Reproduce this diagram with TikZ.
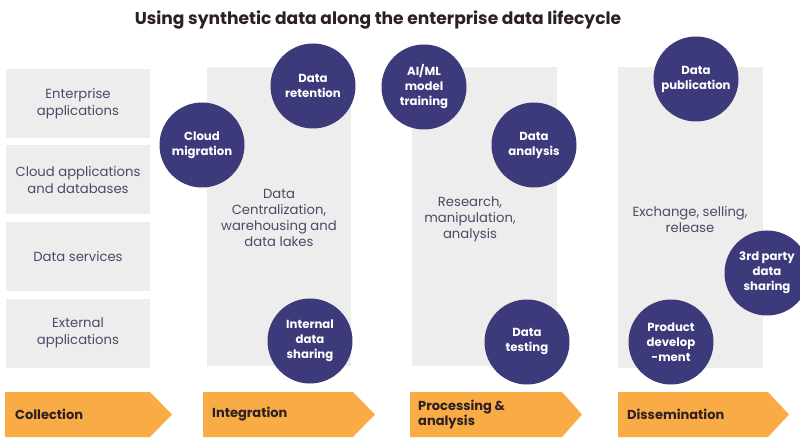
\documentclass[tikz,border=0pt]{standalone}
\usepackage{fontspec}
\setmainfont{Poppins}
\definecolor{panelgray}{HTML}{EDEDEE}
\definecolor{bubblecol}{HTML}{3C3A7B}
\definecolor{stagecol}{HTML}{F9AC45}
\definecolor{bodytext}{HTML}{4A4A66}
\definecolor{darktext}{HTML}{2B2024}
\begin{document}
\begin{tikzpicture}[x=1pt,y=-1pt,
  srcbox/.style={fill=panelgray, minimum width=144pt, minimum height=69pt, inner sep=0pt,
     align=center, text=bodytext, font=\fontsize{13.2}{16.5}\selectfont},
  panel/.style={fill=panelgray},
  paneltext/.style={align=center, text=bodytext, font=\fontsize{13.2}{16}\selectfont},
  bubble/.style={circle, fill=bubblecol, minimum size=85pt, inner sep=0pt, align=center,
     text=white, font=\bfseries\fontsize{11.7}{15}\selectfont},
  stage/.style={fill=stagecol},
  stagetext/.style={anchor=west, align=left, inner sep=0pt, text=darktext, font=\bfseries\fontsize{13}{15.5}\selectfont},
  title/.style={text=darktext, font=\bfseries\fontsize{17.1}{21}\selectfont}
]
\useasboundingbox (0,0) rectangle (800,446);

% title
\node[title] (ttl) at (378,20) {Using synthetic data along the enterprise data lifecycle};

% source boxes
\node[srcbox] (ent) at (78,103.5) {Enterprise\\applications};
\node[srcbox] (cloudapp) at (78,180) {Cloud applications\\and databases};
\node[srcbox] (dserv) at (78,256.5) {Data services};
\node[srcbox] (ext) at (78,333) {External\\applications};

% panels
\fill[panel] (207,67) rectangle (351,366);
\fill[panel] (412,67) rectangle (557,366);
\fill[panel] (618,67) rectangle (763,368);

\node[paneltext] (integ) at (279,218) {Data\\Centralization,\\warehousing and\\data lakes};
\node[paneltext] (proc) at (470,219) {Research,\\manipulation,\\analysis};
\node[paneltext] (diss) at (690,220) {Exchange, selling,\\release};

% bubbles
\node[bubble] (cloudmig) at (202,145) {Cloud\\migration};
\node[bubble] (retention) at (313,86) {Data\\retention};
\node[bubble] (internal) at (310,341) {Internal\\data\\sharing};
\node[bubble] (aiml) at (424,87) {AI/ML\\model\\training};
\node[bubble] (analysis) at (534,145) {Data\\analysis};
\node[bubble] (testing) at (527,342) {Data\\testing};
\node[bubble] (publication) at (696,79) {Data\\publication};
\node[bubble] (thirdparty) at (767,273) {3rd party\\data\\sharing};
\node[bubble] (product) at (671,342) {Product\\develop\\-ment};

% stage arrows
\fill[stage] (5,392) -- (150,392) -- (172,414.5) -- (150,437) -- (5,437) -- cycle;
\fill[stage] (203,392) -- (353,392) -- (375,414.5) -- (353,437) -- (203,437) -- cycle;
\fill[stage] (410,392) -- (562,392) -- (582,414.5) -- (562,437) -- (410,437) -- cycle;
\fill[stage] (618,392) -- (768,392) -- (789,414.5) -- (768,437) -- (618,437) -- cycle;

\node[stagetext] (s1) at (15,414.5) {Collection};
\node[stagetext] (s2) at (212,414.5) {Integration};
\node[stagetext] (s3) at (418,414.5) {Processing \&\\analysis};
\node[stagetext] (s4) at (627,414.5) {Dissemination};
\end{tikzpicture}
\end{document}
